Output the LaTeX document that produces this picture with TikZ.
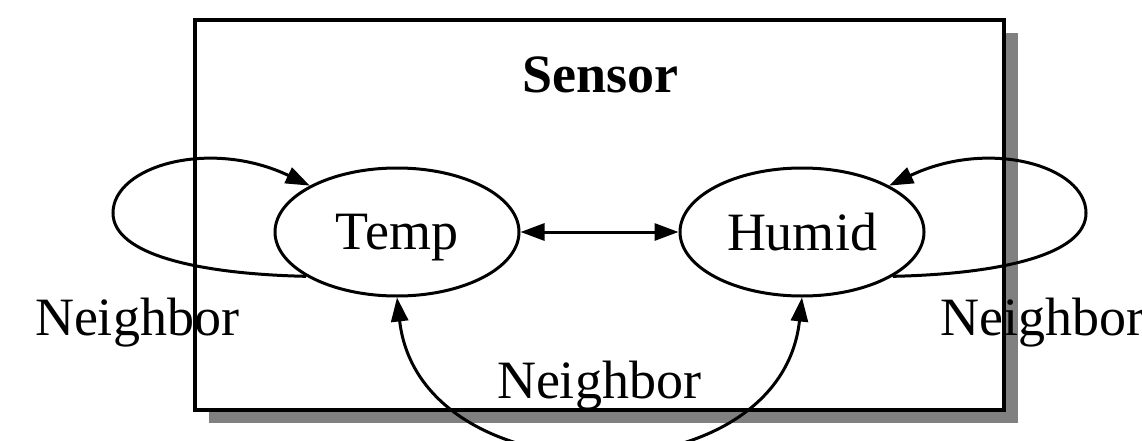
\documentclass[tikz,border=0pt]{standalone}
\usepackage{fontspec}
\setmainfont{Liberation Serif}
\usetikzlibrary{shapes.geometric,arrows.meta}
\begin{document}
\begin{tikzpicture}[x=1pt,y=-1pt,
  bigfont/.style={font=\fontsize{54}{60}\selectfont},
  state/.style={draw, ellipse, line width=3pt, minimum width=244pt,
    minimum height=128pt, inner sep=0pt, text depth=0pt, bigfont},
  link/.style={line width=3pt, -{Triangle[length=24pt,width=17pt]}},
  bilink/.style={line width=3pt, {Triangle[length=24pt,width=17pt]}-{Triangle[length=24pt,width=17pt]}},
  lbl/.style={anchor=base, inner sep=0pt, bigfont},
]
\useasboundingbox (0,0) rectangle (1142,441);

% cluster frame with drop shadow
\fill[gray] (209,33) rectangle (1018,423);
\draw[line width=3.5pt, fill=white] (195,20) rectangle (1004,410);
\node[lbl, font=\fontsize{54}{60}\selectfont\bfseries] (title) at (600,93) {Sensor};

% states
\node[state] (temp) at (397,232) {Temp};
\node[state] (humid) at (802,232) {Humid};

% self loops
\draw[link] (temp.206) .. controls (200,274) and (113,255) .. (113,213)
  .. controls (113,166) and (210,138) .. (temp.152);
\draw[link] (humid.334) .. controls (999,274) and (1086,255) .. (1086,213)
  .. controls (1086,166) and (989,138) .. (humid.28);

% links between the states
\draw[bilink] (temp.east) -- (humid.west);
\draw[bilink] (temp.south) .. controls (420,500) and (780,500) .. (humid.south);

% edge labels
\node[lbl] (nbL) at (137,335) {Neighbor};
\node[lbl] (nbR) at (1042,335) {Neighbor};
\node[lbl] (nbB) at (599,398) {Neighbor};
\end{tikzpicture}
\end{document}
